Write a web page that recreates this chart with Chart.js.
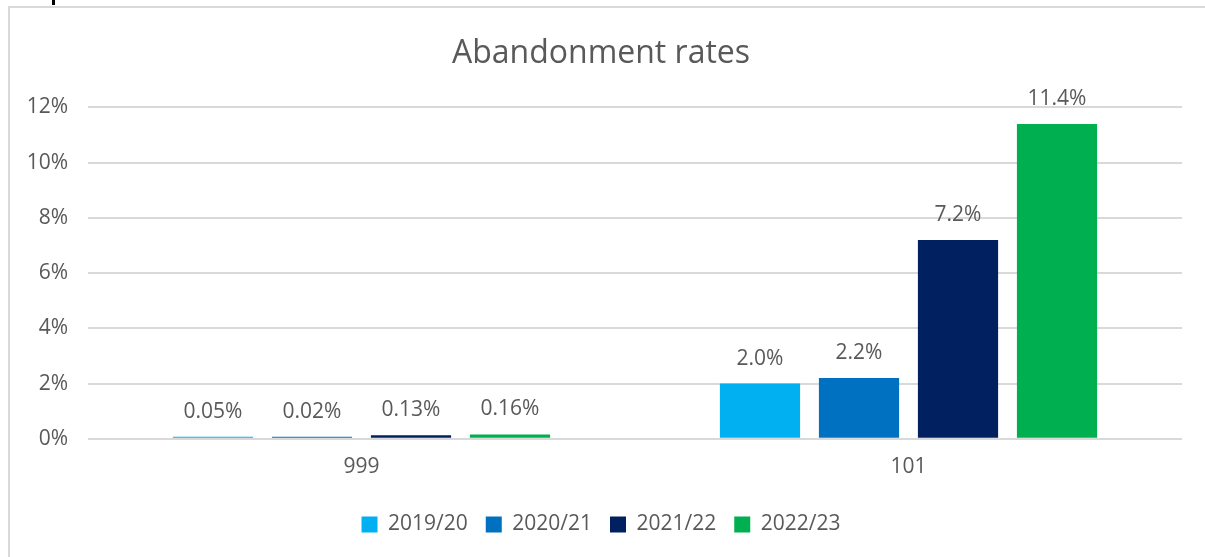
<!DOCTYPE html>
<html>
<head>
<meta charset="utf-8">
<script src="https://cdn.jsdelivr.net/npm/chart.js@4"></script>
<style>
html,body{margin:0;padding:0;background:#fff;}
#wrap{position:relative;width:1205px;height:557px;overflow:hidden;}
#frame{position:absolute;left:8px;top:6px;width:1300px;height:700px;border-left:2px solid #d9d9d9;border-top:2px solid #d9d9d9;pointer-events:none;}
#mark{position:absolute;left:52px;top:0;width:3px;height:5px;background:#000;}
canvas{position:absolute;left:0;top:0;}
</style>
</head>
<body>
<div id="wrap">
<canvas id="c" width="1205" height="557"></canvas>
<div id="frame"></div>
<div id="mark"></div>
</div>
<script>
const categories = ["999", "101"];
const seriesNames = ["2019/20", "2020/21", "2021/22", "2022/23"];
const s2019 = [0.05, 2.0];
const s2020 = [0.02, 2.2];
const s2021 = [0.13, 7.2];
const s2022 = [0.16, 11.4];
const yTicks = [0, 2, 4, 6, 8, 10, 12];
const colors = ["#00B0F0", "#0070C0", "#002060", "#00B050"];

const FONT = "'Open Sans', 'Noto Sans', sans-serif";
const TXT = "#595959";
const FS = 21;

function fmt(v){ return (v < 1 ? v.toFixed(2) : v.toFixed(1)) + "%"; }

const labelPlugin = {
  id: "barLabels",
  afterDatasetsDraw(chart){
    const ctx = chart.ctx;
    ctx.save();
    ctx.font = FS + "px " + FONT;
    ctx.fillStyle = TXT;
    ctx.textAlign = "center";
    ctx.textBaseline = "middle";
    chart.data.datasets.forEach((ds, i) => {
      const meta = chart.getDatasetMeta(i);
      meta.data.forEach((bar, j) => {
        const top = Math.min(bar.y, chart.scales.y.getPixelForValue(0) - 2);
        ctx.fillText(fmt(ds.data[j]), bar.x, top - 25);
      });
    });
    ctx.restore();
  }
};

const data = {
  labels: categories,
  datasets: [s2019, s2020, s2021, s2022].map((d, i) => ({
    label: seriesNames[i],
    data: d,
    backgroundColor: colors[i],
    borderWidth: 0,
    minBarLength: 2,
    categoryPercentage: 0.724,
    barPercentage: 0.81
  }))
};

new Chart(document.getElementById("c"), {
  type: "bar",
  data: data,
  plugins: [labelPlugin],
  options: {
    responsive: false,
    animation: false,
    devicePixelRatio: 1,
    layout: { padding: { left: 20, right: 23, top: 18, bottom: 12 } },
    plugins: {
      title: {
        display: true,
        text: "Abandonment rates",
        color: TXT,
        font: { family: FONT, size: 32, weight: "normal" },
        padding: { top: 17, bottom: 34 }
      },
      legend: {
        position: "bottom",
        labels: {
          color: TXT,
          font: { family: FONT, size: FS },
          boxWidth: 16,
          boxHeight: 16,
          padding: 18
        }
      },
      tooltip: { enabled: false }
    },
    scales: {
      x: {
        grid: { display: false, drawTicks: false },
        border: { display: false },
        ticks: { color: TXT, font: { family: FONT, size: FS }, padding: 16 }
      },
      y: {
        min: 0,
        max: 12,
        afterBuildTicks(scale){ scale.ticks = yTicks.map(v => ({ value: v })); },
        afterFit(scale){ scale.width = 68; },
        grid: { color: "#d9d9d9", lineWidth: 2, drawTicks: false },
        border: { display: false },
        ticks: {
          color: TXT,
          font: { family: FONT, size: FS },
          padding: 20,
          callback: v => v + "%"
        }
      }
    }
  }
});
</script>
</body>
</html>
